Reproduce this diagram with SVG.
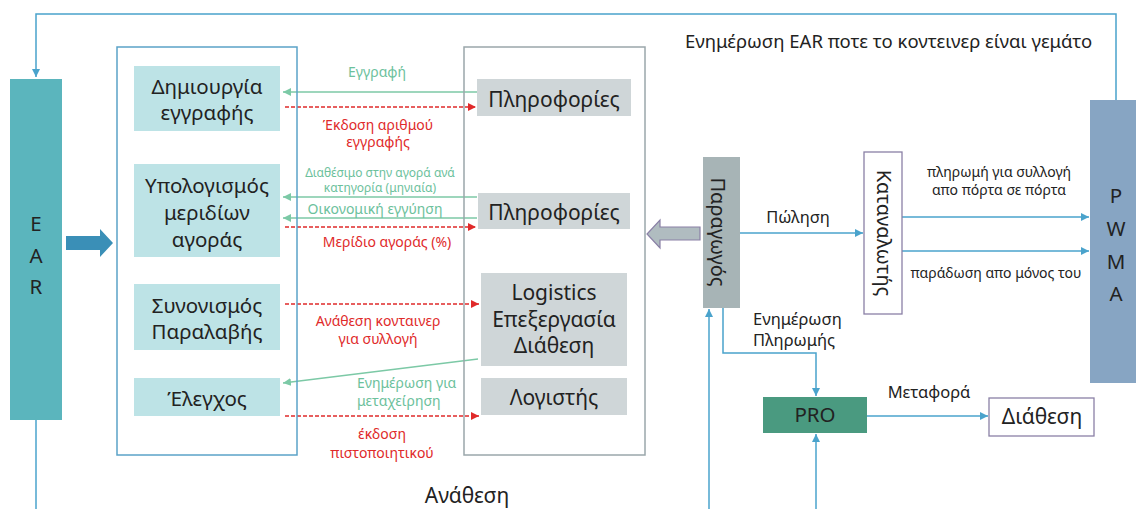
<svg xmlns="http://www.w3.org/2000/svg" width="1136" height="509" viewBox="0 0 1136 509">
<style>
text{font-family:"Noto Sans","Open Sans","DejaVu Sans",sans-serif;fill:#222}
.bx{fill:#bde3e6}
.gb{fill:#cfd6d8}
.t17{font-size:20.5px;text-anchor:middle}
.t18{font-size:21px;text-anchor:middle}
.g{fill:#6cc19c;font-size:14px;text-anchor:middle}
.r{fill:#e02a2a;font-size:14px;text-anchor:middle}
.s{font-size:14px;text-anchor:middle}
.m{font-size:16.5px}
.bl{stroke:#4aa3cc;stroke-width:1.5;fill:none}
.gl{stroke:#7cc9a6;stroke-width:1.5;fill:none}
.rl{stroke:#e02a2a;stroke-width:1.3;stroke-dasharray:4 2;fill:none}
</style>
<defs>
<marker id="ab" markerUnits="userSpaceOnUse" markerWidth="10" markerHeight="10" refX="8" refY="4" orient="auto"><path d="M0,0 L8,4 L0,8 z" fill="#4aa3cc"/></marker>
<marker id="ag" markerUnits="userSpaceOnUse" markerWidth="10" markerHeight="10" refX="8" refY="4" orient="auto"><path d="M0,0 L8,4 L0,8 z" fill="#7cc9a6"/></marker>
<marker id="ar" markerUnits="userSpaceOnUse" markerWidth="10" markerHeight="10" refX="8" refY="4" orient="auto"><path d="M0,0 L8,4 L0,8 z" fill="#e02a2a"/></marker>
</defs>
<rect width="1136" height="509" fill="#fff"/>

<g id="connectors">
<path class="bl" d="M1116,100 V14 H36 V77" marker-end="url(#ab)"/>
<path class="bl" d="M36,420 V509"/>
<path class="gl" d="M477,92 H283" marker-end="url(#ag)"/>
<path class="rl" d="M285,107 H476" marker-end="url(#ar)"/>
<path class="gl" d="M477,197 H283" marker-end="url(#ag)"/>
<path class="gl" d="M477,218 H283" marker-end="url(#ag)"/>
<path class="rl" d="M285,227 H476" marker-end="url(#ar)"/>
<path class="rl" d="M285,304 H479" marker-end="url(#ar)"/>
<path class="gl" d="M478,359 L283,383" marker-end="url(#ag)"/>
<path class="rl" d="M285,416 H479" marker-end="url(#ar)"/>
<path class="bl" d="M740,233 H863" marker-end="url(#ab)"/>
<path class="bl" d="M902,217 H1089" marker-end="url(#ab)"/>
<path class="bl" d="M902,251 H1089" marker-end="url(#ab)"/>
<path class="bl" d="M723,308 V353 H816 V396" marker-end="url(#ab)"/>
<path class="bl" d="M709,509 V309" marker-end="url(#ab)"/>
<path class="bl" d="M816,509 V434" marker-end="url(#ab)"/>
<path class="bl" d="M867,416 H988" marker-end="url(#ab)"/>
<path d="M66,236 H100 V229 L113,243 L100,257 V250 H66 Z" fill="#3a8fb7"/>
<path d="M700,227 H660 V220 L647,234 L660,248 V240 H700 Z" fill="#b0bcc0" stroke="#8a80a6" stroke-width="1.2"/>
<text class="g" x="377" y="77">Εγγραφή</text>
<text class="r" x="378" y="130">Έκδοση αριθμού</text>
<text class="r" x="378" y="147">εγγραφής</text>
<text class="g" x="380" y="177" style="font-size:12px">Διαθέσιμο στην αγορά ανά</text>
<text class="g" x="380" y="192" style="font-size:12px">κατηγορία (μηνιαία)</text>
<text class="g" x="375" y="214">Οικονομική εγγύηση</text>
<text class="r" x="387" y="247">Μερίδιο αγοράς (%)</text>
<text class="r" x="378" y="326">Ανάθεση κονταινερ</text>
<text class="r" x="378" y="344">για συλλογή</text>
<text class="g" x="357" y="388" style="text-anchor:start">Ενημέρωση για</text>
<text class="g" x="357" y="406" style="text-anchor:start">μεταχείρηση</text>
<text class="r" x="382" y="439">έκδοση</text>
<text class="r" x="382" y="458">πιστοποιητικού</text>
<text x="467" y="503" style="font-size:21px;text-anchor:middle">Ανάθεση</text>
<text x="685" y="48" style="font-size:18.5px">Ενημέρωση EAR ποτε το κοντεινερ είναι γεμάτο</text>
<text x="798" y="223" class="m" style="text-anchor:middle">Πώληση</text>
<text class="s" x="999" y="177">πληρωμή για συλλογή</text>
<text class="s" x="999" y="195">απο πόρτα σε πόρτα</text>
<text class="s" x="996" y="278">παράδωση απο μόνος του</text>
<text x="753" y="325" class="m">Ενημέρωση</text>
<text x="753" y="346" class="m">Πληρωμής</text>
<text x="929" y="398" class="m" style="text-anchor:middle">Μεταφορά</text>
</g>

<g id="ear">
<rect x="10" y="79" width="52" height="341" fill="#5bb5bd"/>
<text class="t17" x="36" y="231">E</text>
<text class="t17" x="36" y="263">A</text>
<text class="t17" x="36" y="294">R</text>
</g>

<g id="left-container"><rect x="117" y="47" width="180" height="408" fill="none" stroke="#5ba3c8" stroke-width="1.5"/></g>
<g id="n-dimiourgia"><rect class="bx" x="134" y="66" width="146" height="65"/><text class="t17" x="207" y="94">Δημιουργία</text><text class="t17" x="207" y="120">εγγραφής</text></g>
<g id="n-ypologismos"><rect class="bx" x="134" y="164" width="146" height="93"/><text class="t17" x="207" y="193">Υπολογισμός</text><text class="t17" x="207" y="220">μεριδίων</text><text class="t17" x="207" y="247">αγοράς</text></g>
<g id="n-synonismos"><rect class="bx" x="134" y="284" width="146" height="66"/><text class="t17" x="207" y="313">Συνονισμός</text><text class="t17" x="207" y="339">Παραλαβής</text></g>
<g id="n-elegxos"><rect class="bx" x="134" y="378" width="146" height="38"/><text class="t17" x="207" y="406">Έλεγχος</text></g>

<g id="right-container"><rect x="464" y="47" width="181" height="408" fill="none" stroke="#9aa7ab" stroke-width="1.5"/></g>
<g id="n-plirofories1"><rect class="gb" x="477" y="79" width="154" height="37"/><text class="t18" x="554" y="107">Πληροφορίες</text></g>
<g id="n-plirofories2"><rect class="gb" x="478" y="193" width="152" height="36"/><text class="t18" x="554" y="220">Πληροφορίες</text></g>
<g id="n-logistics"><rect class="gb" x="481" y="273" width="146" height="93"/><text class="t18" x="554" y="300">Logistics</text><text class="t18" x="554" y="327">Επεξεργασία</text><text class="t18" x="554" y="353">Διάθεση</text></g>
<g id="n-logistis"><rect class="gb" x="481" y="378" width="146" height="37"/><text class="t18" x="554" y="405">Λογιστής</text></g>

<g id="n-paragogos"><rect x="703" y="157" width="37" height="151" fill="#a7b4b6"/><text x="718" y="232" transform="rotate(90 718 232)" style="font-size:20px;text-anchor:middle;dominant-baseline:central">Παραγωγός</text></g>
<g id="n-katanalotis"><rect x="864" y="152" width="38" height="162" fill="#fff" stroke="#8a80a6" stroke-width="1.3"/><text x="884" y="233" transform="rotate(90 884 233)" style="font-size:20px;text-anchor:middle;dominant-baseline:central">Καταναλωτής</text></g>
<g id="n-pwma"><rect x="1090" y="100" width="46" height="283" fill="#87a5c3"/><text class="t17" x="1116" y="203">P</text><text class="t17" x="1116" y="236">W</text><text class="t17" x="1116" y="269">M</text><text class="t17" x="1116" y="301">A</text></g>
<g id="n-pro"><rect x="763" y="397" width="104" height="36" fill="#4a9a80"/><text class="t17" x="815" y="422">PRO</text></g>
<g id="n-diathesi"><rect x="989" y="398" width="105" height="38" fill="#fff" stroke="#8a80a6" stroke-width="1.3"/><text class="t18" x="1042" y="424">Διάθεση</text></g>
</svg>
